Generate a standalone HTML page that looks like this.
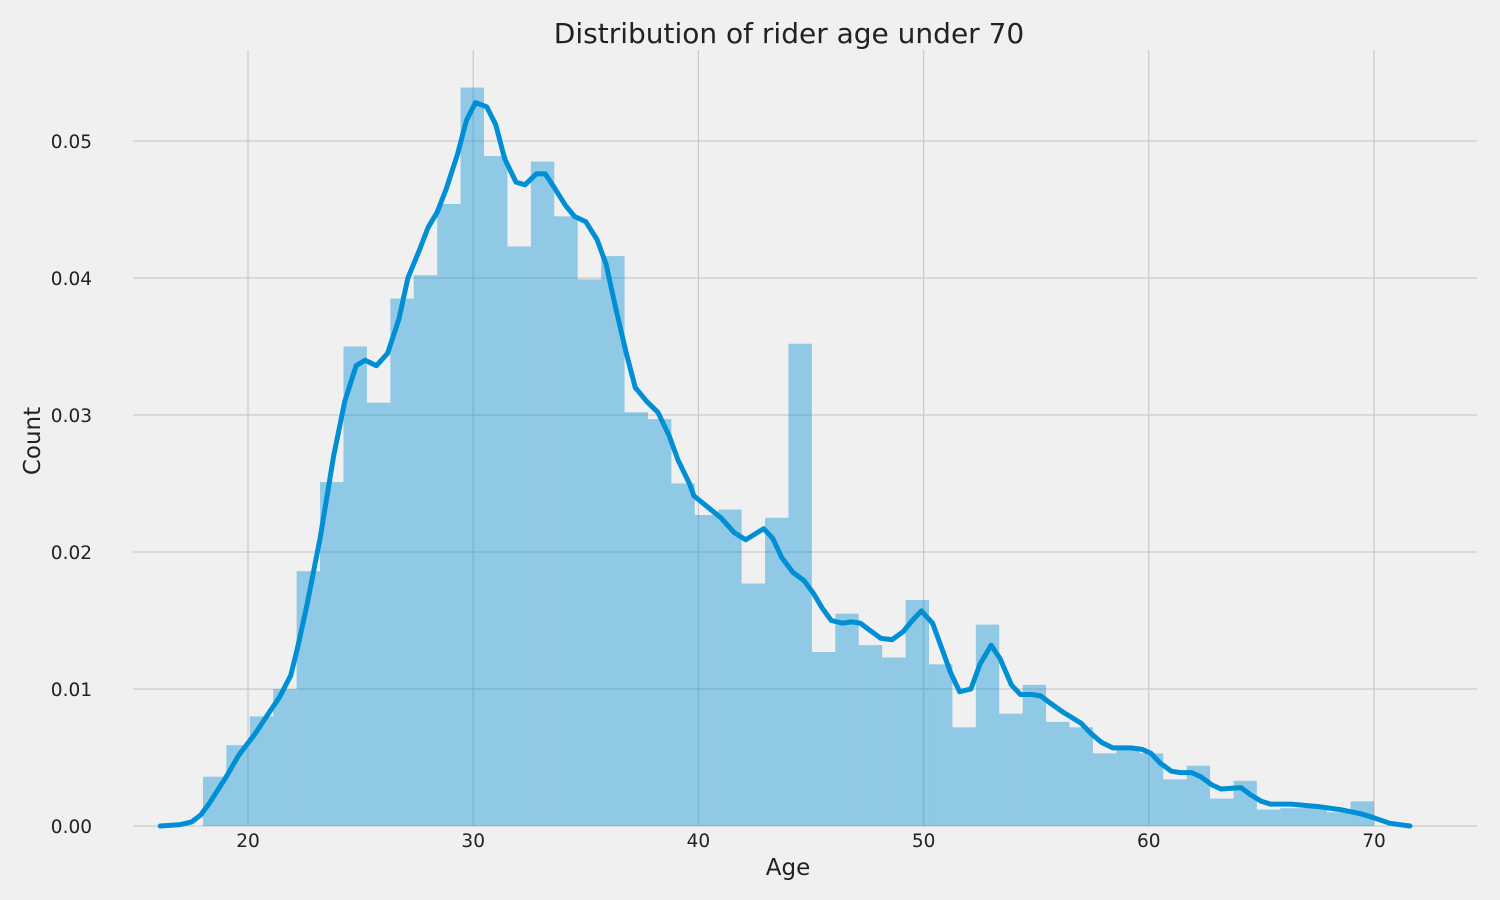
<!DOCTYPE html>
<html><head><meta charset="utf-8"><style>
html,body{margin:0;padding:0;background:#f0f0f0;}
svg{display:block;font-family:"DejaVu Sans","Liberation Sans",sans-serif;}
</style></head><body>
<svg id="chart" width="1500" height="900" viewBox="0 0 1500 900" xmlns="http://www.w3.org/2000/svg">
<rect width="1500" height="900" fill="#f0f0f0"/>
<g id="grid"></g>
<g id="bars"></g>
<g id="kde"></g>
<g id="ticks"></g>
<text x="789" y="43" font-size="28" text-anchor="middle" fill="#222">Distribution of rider age under 70</text>
<text x="788" y="875" font-size="23" text-anchor="middle" fill="#222">Age</text>
<text x="40" y="441" font-size="23" text-anchor="middle" fill="#222" transform="rotate(-90 40 441)">Count</text>
</svg>
<script>
const binStart = 18, binEnd = 70;
const binValues = [0.0036,0.0059,0.0080,0.0100,0.0186,0.0251,0.0350,0.0309,0.0385,0.0402,
0.0454,0.0539,0.0489,0.0423,0.0485,0.0445,0.0399,0.0416,0.0302,0.0297,
0.0250,0.0227,0.0231,0.0177,0.0225,0.0352,0.0127,0.0155,0.0132,0.0123,
0.0165,0.0118,0.0072,0.0147,0.0082,0.0103,0.0076,0.0072,0.0053,0.0058,
0.0053,0.0034,0.0044,0.0020,0.0033,0.0012,0.0013,0.0014,0.0010,0.0018];
const kdeX = [16.1,17,17.5,17.9,18.3,19,19.6,20.3,20.9,21.4,21.9,22.2,22.6,23.2,23.8,24.3,24.8,25.2,25.7,26.2,26.7,27.1,27.6,28.0,28.4,28.8,29.3,29.7,30.1,30.6,31.0,31.4,31.9,32.3,32.8,33.2,33.6,34.1,34.5,35.0,35.5,35.9,36.3,36.8,37.2,37.7,38.2,38.7,39.1,39.6,39.8,40.4,41,41.6,42.1,42.9,43.3,43.7,44.2,44.7,45.1,45.5,45.9,46.4,46.8,47.2,47.6,48.1,48.6,49.1,49.5,49.9,50.4,50.8,51.2,51.6,52.1,52.5,53.0,53.4,53.9,54.3,54.8,55.2,55.6,56.2,57.0,57.4,57.9,58.4,59.2,59.7,60.1,60.5,61.0,61.4,61.9,62.3,62.8,63.2,64.1,64.5,65.0,65.4,66.3,67.6,68.5,69.4,70.0,70.7,71.6];
const kdeY = [0,0.0001,0.0003,0.0008,0.0017,0.0035,0.0052,0.0067,0.0082,0.0094,0.011,0.013,0.016,0.021,0.027,0.031,0.0336,0.034,0.0336,0.0345,0.037,0.040,0.042,0.0437,0.0448,0.0465,0.049,0.0515,0.0528,0.0525,0.0512,0.0487,0.047,0.0468,0.0476,0.0476,0.0466,0.0453,0.0445,0.0441,0.0428,0.041,0.038,0.0345,0.032,0.031,0.0302,0.0285,0.0267,0.025,0.0241,0.0233,0.0225,0.0214,0.0209,0.0217,0.0210,0.0196,0.0185,0.0179,0.017,0.0159,0.015,0.0148,0.0149,0.0148,0.0143,0.0137,0.0136,0.0142,0.015,0.0157,0.0148,0.013,0.0112,0.0098,0.0100,0.0118,0.0132,0.0122,0.0103,0.0096,0.0096,0.0095,0.0090,0.0083,0.0075,0.0068,0.0061,0.0057,0.0057,0.0056,0.0053,0.0046,0.0040,0.0039,0.0039,0.0036,0.0030,0.0027,0.0028,0.0023,0.0018,0.0016,0.0016,0.0014,0.0012,0.0009,0.0006,0.0002,0];
const xTicks = [20,30,40,50,60,70];
const yTicks = [0,0.01,0.02,0.03,0.04,0.05];
const yTickLabels = ["0.00","0.01","0.02","0.03","0.04","0.05"];

const NS = "http://www.w3.org/2000/svg";
const X0 = 133, X1 = 1477, Y0 = 826, Y1 = 50;
const xScale = v => 248 + (v - 20) * 22.52;
const yScale = v => 826 - v * 13700;
function mk(tag, parent, attrs){const e=document.createElementNS(NS,tag);for(const k in attrs)e.setAttribute(k,attrs[k]);parent.appendChild(e);return e;}

const grid = document.getElementById('grid'), ticks = document.getElementById('ticks');
xTicks.forEach(t=>{
  const l = mk('line', grid, {x1:xScale(t),x2:xScale(t),y1:Y1,y2:Y0,stroke:'#cbcbcb','stroke-width':1.3});
  
  
  const tx = mk('text', ticks, {x:xScale(t),y:847,'font-size':18.5,'text-anchor':'middle',fill:'#222'});
  tx.textContent = t;
  
  
});
yTicks.forEach((t,i)=>{
  const l = mk('line', grid, {x1:X0,x2:X1,y1:yScale(t),y2:yScale(t),stroke:'#cbcbcb','stroke-width':1.3});
  
  
  const tx = mk('text', ticks, {x:92,y:yScale(t)+7,'font-size':18.5,'text-anchor':'end',fill:'#222'});
  tx.textContent = yTickLabels[i];
  
  
});
const bars = document.getElementById('bars');
const bw = (binEnd - binStart) / binValues.length;
binValues.forEach((v,i)=>{
  const xa = xScale(binStart + i*bw), xb = xScale(binStart + (i+1)*bw);
  const r = mk('rect', bars, {x:xa,y:yScale(v),width:xb-xa,height:yScale(0)-yScale(v),fill:'#008fd5','fill-opacity':0.4});
  
  
});
const kde = document.getElementById('kde');
const d = kdeX.map((x,i)=>(i?'L':'M')+xScale(x).toFixed(1)+','+yScale(kdeY[i]).toFixed(1)).join(' ');
const p = mk('path', kde, {d:d,fill:'none',stroke:'#008fd5','stroke-width':5,'stroke-linejoin':'round','stroke-linecap':'round'});


</script>
</body></html>
